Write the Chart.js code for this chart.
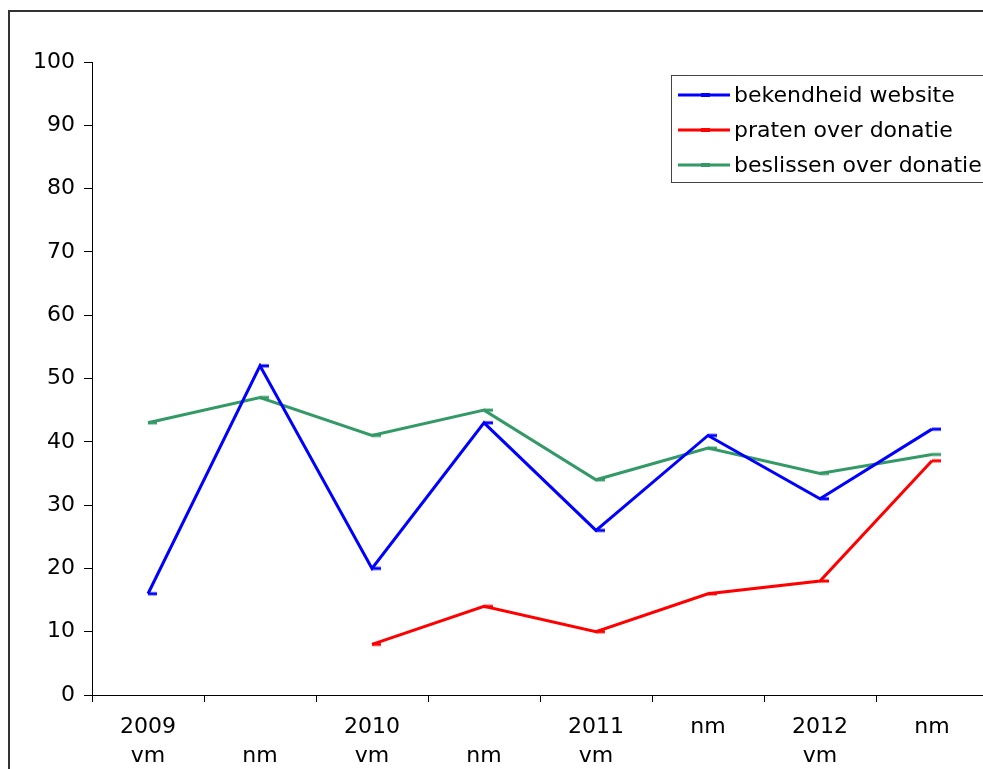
<!DOCTYPE html>
<html lang="nl">
<head>
<meta charset="UTF-8">
<title>Bekendheid website en praten/beslissen over donatie</title>
<script src="https://cdn.jsdelivr.net/npm/chart.js"></script>
<style>
    html, body { margin: 0; padding: 0; background: #fff; overflow: hidden; }
    body { width: 983px; height: 769px; position: relative; }
    .frame {
        position: absolute; left: 8px; top: 10px;
        width: 1100px; height: 900px;
        border-left: 2px solid #333; border-top: 2px solid #333;
    }
    #chart { position: absolute; left: 0; top: 0; }
</style>
</head>
<body>
<div class="frame"></div>
<canvas id="chart" width="1000" height="769" style="width:1000px;height:769px"></canvas>
<script>
// periodes (vm = voorjaarsmeting, nm = najaarsmeting)
const periodLabels = [['2009', 'vm'], ['', 'nm'], ['2010', 'vm'], ['', 'nm'], ['2011', 'vm'], ['nm'], ['2012', 'vm'], ['nm']];

const seriesNames = ['bekendheid website', 'praten over donatie', 'beslissen over donatie'];
const bekendheid = [16, 52, 20, 43, 26, 41, 31, 42];
const praten = [null, null, 8, 14, 10, 16, 18, 37];
const beslissen = [43, 47, 41, 45, 34, 39, 35, 38];
const seriesColors = ['#0000FF', '#FF0000', '#339966'];

const FONT = "'DejaVu Sans', Verdana, sans-serif";

// klein streepje rechts van het punt (zoals de Excel-markering)
function dashMarker(color) {
    const c = document.createElement('canvas');
    c.width = 22; c.height = 6;
    const g = c.getContext('2d');
    g.fillStyle = color;
    g.fillRect(11, 1.5, 9, 3);
    return c;
}

const seriesData = [bekendheid, praten, beslissen];
const datasets = seriesNames.map((name, i) => ({
    label: name,
    data: seriesData[i],
    borderColor: seriesColors[i],
    backgroundColor: seriesColors[i],
    borderWidth: 3,
    tension: 0,
    pointStyle: dashMarker(seriesColors[i]),
    pointRadius: 5,
    pointHoverRadius: 5
}));

// legenda in een kader, rechtsboven
const boxLegend = {
    id: 'boxLegend',
    afterDraw(chart) {
        const ctx = chart.ctx;
        const area = chart.chartArea;
        const left = area.right - 317, top = area.top + 13;
        ctx.save();
        ctx.fillStyle = '#fff';
        ctx.fillRect(left, top, 400, 107);
        ctx.strokeStyle = '#444';
        ctx.lineWidth = 1;
        ctx.strokeRect(left + 0.5, top + 0.5, 400, 107);
        ctx.font = '22px ' + FONT;
        ctx.textBaseline = 'middle';
        chart.data.datasets.forEach((ds, i) => {
            const y = top + 20 + i * 35;
            ctx.strokeStyle = ds.borderColor;
            ctx.lineWidth = 3;
            ctx.beginPath();
            ctx.moveTo(left + 7, y);
            ctx.lineTo(left + 59, y);
            ctx.stroke();
            ctx.fillStyle = ds.borderColor;
            ctx.fillRect(left + 30, y - 2, 9, 4);
            ctx.fillStyle = '#000';
            ctx.fillText(ds.label, left + 63, y + 1);
        });
        ctx.restore();
    }
};

new Chart(document.getElementById('chart'), {
    type: 'line',
    data: { labels: periodLabels, datasets: datasets },
    options: {
        responsive: false,
        animation: false,
        layout: { padding: { top: 62, right: 12, bottom: 0, left: 0 } },
        plugins: { legend: { display: false }, tooltip: { enabled: false } },
        scales: {
            x: {
                offset: true,
                grid: { offset: true, drawOnChartArea: false, tickLength: 7, color: '#000', lineWidth: 1 },
                border: { color: '#000', width: 1 },
                ticks: {
                    color: '#000', padding: 11, maxRotation: 0, autoSkip: false,
                    font: { family: FONT, size: 22, lineHeight: 1.3 }
                },
                afterFit(scale) { scale.height = 74; }
            },
            y: {
                min: 0, max: 100,
                grid: { drawOnChartArea: false, tickLength: 8, color: '#000', lineWidth: 1 },
                border: { color: '#000', width: 1 },
                ticks: {
                    stepSize: 10, color: '#000', padding: 9,
                    font: { family: FONT, size: 22 }
                },
                afterFit(scale) { scale.width = 92; }
            }
        }
    },
    plugins: [boxLegend]
});
</script>
</body>
</html>
